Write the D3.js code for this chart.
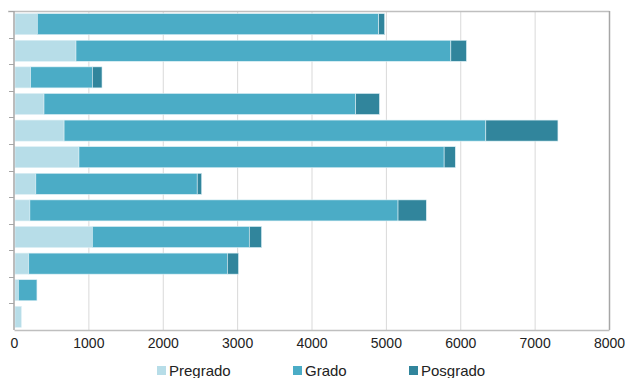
<!DOCTYPE html>
<html>
<head>
<meta charset="utf-8">
<script src="https://cdn.jsdelivr.net/npm/d3@7"></script>
<style>
  html, body { margin: 0; padding: 0; background: #fff; }
  svg { display: block; font-family: "Liberation Sans", Arial, sans-serif; }
</style>
</head>
<body>
<svg id="chart" width="625" height="378"></svg>
<script>
// Data (rows from top to bottom; category labels are blank in the original)
const categories = ["c1","c2","c3","c4","c5","c6","c7","c8","c9","c10","c11","c12"];
const seriesNames = ["Pregrado", "Grado", "Posgrado"];
const pregrado = [300, 820, 210, 390, 660, 860, 280, 200, 1040, 185, 45, 85];
const grado    = [4590, 5040, 830, 4190, 5670, 4910, 2170, 4950, 2110, 2670, 250, 0];
const posgrado = [80, 210, 130, 320, 970, 150, 60, 380, 165, 150, 0, 0];
const xTicks = [0, 1000, 2000, 3000, 4000, 5000, 6000, 7000, 8000];
const colors = ["#b7dde8", "#4bacc6", "#31859c"];

(function () {
const rows = categories.map((c, i) => ({
  cat: c, Pregrado: pregrado[i], Grado: grado[i], Posgrado: posgrado[i]
}));

const svg = d3.select("#chart");
const mLeft = 14, mRight = 609, mTop = 11, mBottom = 330;

const x = d3.scaleLinear().domain([0, 8000]).range([mLeft, mRight]);
const y = d3.scaleBand().domain(categories).range([mTop, mBottom]).paddingInner(0.21).paddingOuter(0.1);

// gridlines
svg.append("g").selectAll("line")
  .data(xTicks.filter(t => t > 0 && t < 8000))
  .join("line")
  .attr("x1", d => x(d) + 0.5).attr("x2", d => x(d) + 0.5)
  .attr("y1", mTop).attr("y2", mBottom)
  .attr("stroke", "#d9d9d9").attr("stroke-width", 1);

// bars
const stack = d3.stack().keys(seriesNames)(rows);
svg.append("g").selectAll("g")
  .data(stack)
  .join("g")
  .attr("fill", (d, i) => colors[i])
  .selectAll("rect")
  .data(d => d.filter(s => s[1] - s[0] > 0))
  .join("rect")
  .attr("x", d => x(d[0]) + 1)
  .attr("y", d => y(d.data.cat))
  .attr("width", d => Math.max(0, x(d[1]) - x(d[0])))
  .attr("height", y.bandwidth())
  .attr("stroke", "#dceff5")
  .attr("stroke-width", 0.6);

// frame: top and right
svg.append("line").attr("x1", 8).attr("x2", mRight + 0.5).attr("y1", mTop + 0.5).attr("y2", mTop + 0.5)
  .attr("stroke", "#bfbfbf").attr("stroke-width", 1.5);
svg.append("line").attr("x1", mRight + 0.5).attr("x2", mRight + 0.5).attr("y1", mTop).attr("y2", mBottom)
  .attr("stroke", "#a6a6a6").attr("stroke-width", 1.5);

// left axis with outside ticks at band boundaries
const bandStep = (mBottom - mTop) / categories.length;
const boundaries = d3.range(categories.length).map(i => mTop + i * bandStep);
svg.append("g").selectAll("line")
  .data(boundaries)
  .join("line")
  .attr("x1", 9).attr("x2", mLeft)
  .attr("y1", d => Math.round(d) + 0.5).attr("y2", d => Math.round(d) + 0.5)
  .attr("stroke", "#a6a6a6").attr("stroke-width", 1);
svg.append("line").attr("x1", mLeft).attr("x2", mLeft).attr("y1", mTop).attr("y2", mBottom)
  .attr("stroke", "#a6a6a6").attr("stroke-width", 1.5);

// bottom axis
const xAxis = d3.axisBottom(x).tickValues(xTicks).tickSize(0).tickPadding(8).tickFormat(d3.format("d"));
const gx = svg.append("g").attr("transform", `translate(0,${mBottom})`).call(xAxis);
gx.select(".domain").attr("stroke", "#bfbfbf").attr("stroke-width", 1.5);
gx.selectAll("text").attr("font-size", 14).attr("fill", "#222")
  .attr("font-family", "'Liberation Sans', Arial, sans-serif");

// legend
const legendX = [157, 293, 409];
const lg = svg.append("g");
seriesNames.forEach((name, i) => {
  lg.append("rect").attr("x", legendX[i]).attr("y", 366).attr("width", 9).attr("height", 9).attr("fill", colors[i]);
  lg.append("text").attr("x", legendX[i] + 12).attr("y", 376)
    .attr("font-size", 15).attr("fill", "#222").text(name);
});
})();
</script>
</body>
</html>
